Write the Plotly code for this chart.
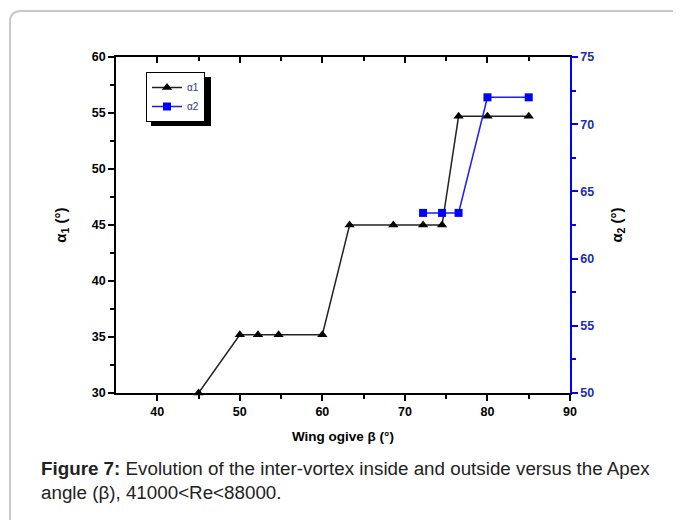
import plotly.graph_objects as go

# Data
beta_a1 = [45, 50, 52.2, 54.7, 60, 63.3, 68.6, 72.2, 74.5, 76.5, 80, 85]
alpha1 = [30, 35.2, 35.2, 35.2, 35.2, 45, 45, 45, 45, 54.7, 54.7, 54.7]
beta_a2 = [72.2, 74.5, 76.5, 80, 85]
alpha2 = [63.4, 63.4, 63.4, 72, 72]

W, H = 681, 520
OFF = 8  # page body margin
L, R, T, B = 116 - OFF, 570 - OFF, 57 - OFF, 393 - OFF
pw, ph = R - L, B - T


def px(x):  # screen pixel -> paper
    return (x - OFF - L) / pw


def py(y):
    return (B - (y - OFF)) / ph


FONT = "Liberation Sans, Arial, sans-serif"

fig = go.Figure()
fig.add_trace(go.Scatter(
    x=beta_a1, y=alpha1, name="α1", mode="lines+markers",
    line=dict(color="#222222", width=1.5),
    marker=dict(symbol="triangle-up", size=9, color="black"),
    cliponaxis=False, yaxis="y"))
fig.add_trace(go.Scatter(
    x=beta_a2, y=alpha2, name="α2", mode="lines+markers",
    line=dict(color="#1a1aff", width=1.5),
    marker=dict(symbol="square", size=8, color="#0000ff"),
    cliponaxis=False, yaxis="y2"))
# helper trace for the inward top-axis ticks
fig.add_trace(go.Scatter(x=[35, 90], y=[None, None], xaxis="x2", showlegend=False, hoverinfo="skip"))

tickfont = dict(family=FONT, size=12.5, color="black", weight="bold")

fig.update_layout(
    width=W, height=H,
    margin=dict(l=L, r=W - R, t=T, b=H - B),
    paper_bgcolor="white", plot_bgcolor="white",
    showlegend=True,
    legend=dict(x=px(146), y=py(72), xanchor="left", yanchor="top",
                bgcolor="white", bordercolor="black", borderwidth=1,
                font=dict(family=FONT, size=10, color="#2b3a8c"),
                itemwidth=30, tracegroupgap=0),
    xaxis=dict(range=[35, 90], tickvals=[40, 50, 60, 70, 80, 90],
               ticks="outside", ticklen=6, tickwidth=1.5, tickcolor="black",
               minor=dict(tickvals=[45, 55, 65, 75, 85], ticks="outside", ticklen=4, tickwidth=1.5, tickcolor="black"),
               showline=True, linecolor="black", linewidth=1.5, mirror=True,
               showgrid=False, zeroline=False, tickfont=tickfont,
               title=dict(text="Wing ogive β (°)", font=dict(family=FONT, size=13.5, color="black", weight="bold"), standoff=14)),
    xaxis2=dict(range=[35, 90], overlaying="x", side="top", tickvals=[40, 50, 60, 70, 80, 90],
                ticks="inside", ticklen=6, tickwidth=1.5, tickcolor="black", showticklabels=False,
                minor=dict(tickvals=[45, 55, 65, 75, 85], ticks="inside", ticklen=4, tickwidth=1.5, tickcolor="black"),
                showgrid=False, zeroline=False, showline=False),
    yaxis=dict(range=[30, 60], tickvals=[30, 35, 40, 45, 50, 55, 60],
               ticks="outside", ticklen=6, tickwidth=1.5, tickcolor="black",
               minor=dict(dtick=2.5, tick0=30, ticks="outside", ticklen=4, tickwidth=1.5, tickcolor="black"),
               showline=True, linecolor="black", linewidth=1.5,
               showgrid=False, zeroline=False, tickfont=tickfont,
               title=dict(text="α<sub>1</sub> (°)", font=dict(family=FONT, size=15, color="black", weight="bold"), standoff=22)),
    yaxis2=dict(range=[50, 75], tickvals=[50, 55, 60, 65, 70, 75], overlaying="y", side="right",
                ticks="outside", ticklen=6, tickwidth=1.5, tickcolor="#0000ff",
                minor=dict(dtick=2.5, tick0=50, ticks="outside", ticklen=4, tickwidth=1.5, tickcolor="#0000ff"),
                showline=True, linecolor="#0000ff", linewidth=1.5,
                showgrid=False, zeroline=False,
                tickfont=dict(family=FONT, size=12.5, color="#1a2fb0", weight="bold"),
                title=dict(text="α<sub>2</sub> (°)", font=dict(family=FONT, size=15, color="black", weight="bold"), standoff=18)),
)

# outer rounded card border
x0, x1 = px(10), px(700)
y1, y0 = py(11), py(540)
rx, ry = 11 / pw, 11 / ph
path = (f"M {x0},{y0} L {x0},{y1 - ry} Q {x0},{y1} {x0 + rx},{y1} L {x1},{y1}")
fig.add_shape(type="path", path=path, xref="paper", yref="paper",
              line=dict(color="#c8c8c8", width=2), layer="below")

# legend drop shadow
fig.add_shape(type="rect", xref="paper", yref="paper",
              x0=px(151), x1=px(211), y0=py(126), y1=py(77),
              fillcolor="black", line=dict(width=0), layer="below")

# caption
fig.add_annotation(xref="paper", yref="paper", x=px(39), y=py(468), xanchor="left", yanchor="middle",
                   showarrow=False, align="left",
                   text="<b>Figure 7:</b> Evolution of the inter-vortex inside and outside versus the Apex",
                   font=dict(family=FONT, size=18.8, color="#222222"))
fig.add_annotation(xref="paper", yref="paper", x=px(39), y=py(492), xanchor="left", yanchor="middle",
                   showarrow=False, align="left",
                   text="angle (β), 41000<Re<88000.",
                   font=dict(family=FONT, size=18.8, color="#222222"))

fig.write_html("out.html")
